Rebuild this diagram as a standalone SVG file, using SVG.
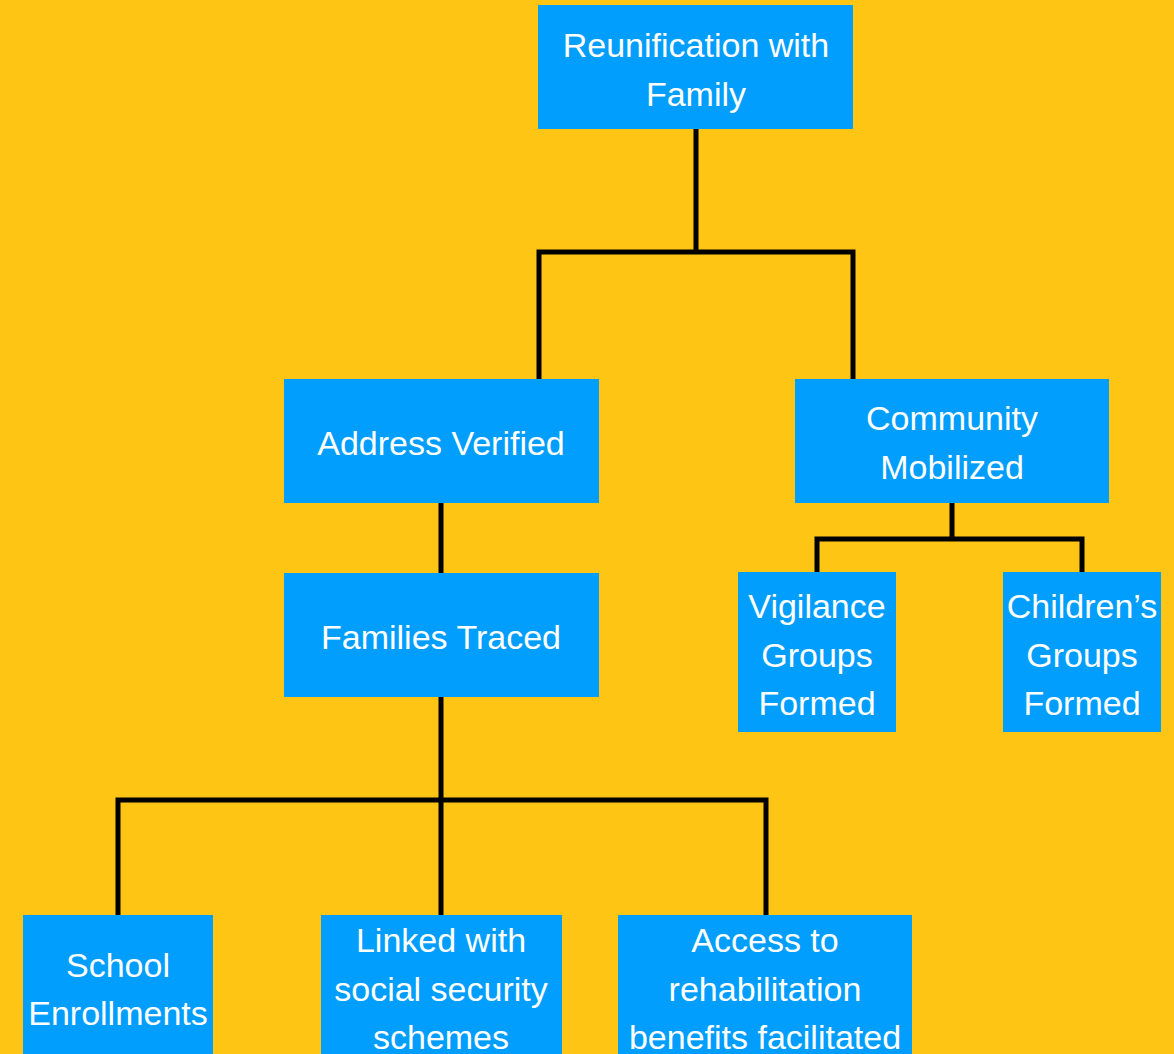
<svg xmlns="http://www.w3.org/2000/svg" width="1174" height="1054" viewBox="0 0 1174 1054">
  <style>
    .box { fill: #029EFD; }
    .lbl { fill: #ffffff; font-family: "Liberation Sans", Arial, sans-serif; font-size: 34px; text-anchor: middle; }
    .wire { fill: none; stroke: #000000; stroke-width: 5; stroke-linecap: square; }
  </style>
  <rect x="0" y="0" width="1174" height="1054" fill="#FEC515"/>

  <!-- tree connectors -->
  <g id="connectors">
    <path class="wire" d="M696 129 V252 M539 252 H853 M539 252 V379 M853 252 V379"/>
    <path class="wire" d="M952 503 V539 M817 539 H1082 M817 539 V572 M1082 539 V572"/>
    <path class="wire" d="M441 503 V573"/>
    <path class="wire" d="M441 697 V800 M118 800 H766 M118 800 V915 M441 800 V915 M766 800 V915"/>
  </g>

  <g id="reunification">
    <rect class="box" x="538" y="5" width="315" height="124"/>
    <text class="lbl" x="696" y="57">Reunification with</text>
    <text class="lbl" x="696" y="106">Family</text>
  </g>

  <g id="address-verified">
    <rect class="box" x="284" y="379" width="315" height="124"/>
    <text class="lbl" x="441" y="455">Address Verified</text>
  </g>

  <g id="community-mobilized">
    <rect class="box" x="795" y="379" width="314" height="124"/>
    <text class="lbl" x="952" y="430">Community</text>
    <text class="lbl" x="952" y="479">Mobilized</text>
  </g>

  <g id="families-traced">
    <rect class="box" x="284" y="573" width="315" height="124"/>
    <text class="lbl" x="441" y="649">Families Traced</text>
  </g>

  <g id="vigilance-groups">
    <rect class="box" x="738" y="572" width="158" height="160"/>
    <text class="lbl" x="817" y="618">Vigilance</text>
    <text class="lbl" x="817" y="667">Groups</text>
    <text class="lbl" x="817" y="715">Formed</text>
  </g>

  <g id="childrens-groups">
    <rect class="box" x="1003" y="572" width="158" height="160"/>
    <text class="lbl" x="1082" y="618">Children’s</text>
    <text class="lbl" x="1082" y="667">Groups</text>
    <text class="lbl" x="1082" y="715">Formed</text>
  </g>

  <g id="school-enrollments">
    <rect class="box" x="23" y="915" width="190" height="145"/>
    <text class="lbl" x="118" y="977">School</text>
    <text class="lbl" x="118" y="1025">Enrollments</text>
  </g>

  <g id="social-security">
    <rect class="box" x="321" y="915" width="241" height="145"/>
    <text class="lbl" x="441" y="952">Linked with</text>
    <text class="lbl" x="441" y="1001">social security</text>
    <text class="lbl" x="441" y="1049">schemes</text>
  </g>

  <g id="rehabilitation-benefits">
    <rect class="box" x="618" y="915" width="294" height="145"/>
    <text class="lbl" x="765" y="952">Access to</text>
    <text class="lbl" x="765" y="1001">rehabilitation</text>
    <text class="lbl" x="765" y="1049">benefits facilitated</text>
  </g>
</svg>
